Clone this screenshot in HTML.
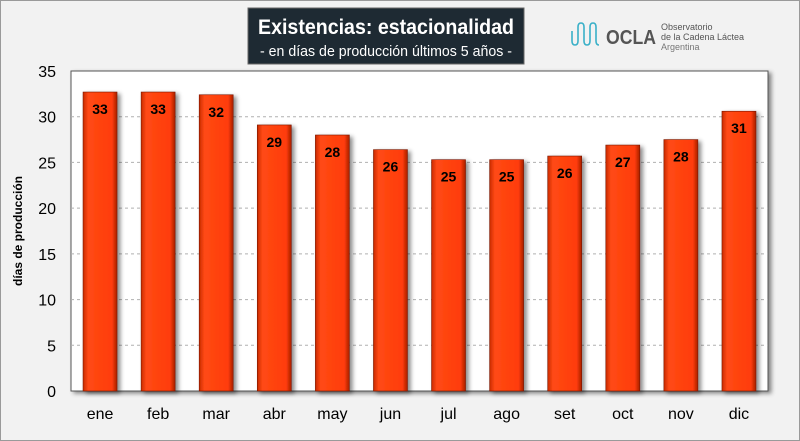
<!DOCTYPE html>
<html><head><meta charset="utf-8"><style>
body{margin:0;width:800px;height:441px;overflow:hidden;background:#f2f2f2;font-family:"Liberation Sans",sans-serif}
#wrap{position:absolute;left:0;top:0;width:798px;height:439px;border:1px solid #9a9a9a;background:#f2f2f2}
</style></head><body>
<div id="wrap">
<svg id="chart" width="800" height="441" style="position:absolute;left:-1px;top:-1px">
<defs>
<linearGradient id="bg" x1="0" x2="1" y1="0" y2="0">
<stop offset="0" stop-color="#c92a00"/><stop offset="0.15" stop-color="#ff4a14"/><stop offset="0.85" stop-color="#ff3c0a"/><stop offset="1" stop-color="#a82000"/>
</linearGradient>
<filter id="sh" x="-20%" y="-5%" width="150%" height="120%"><feDropShadow dx="3" dy="2" stdDeviation="2" flood-color="#000" flood-opacity="0.45"/></filter>
</defs>
<rect x="71" y="71" width="697" height="320" fill="#fff" stroke="#555" stroke-width="1" filter="url(#sh)"/>
<g id="grid"></g><g id="bars"></g><g id="axes"></g>
<g>
<rect x="248" y="8" width="276" height="56" fill="#1e2a33" stroke="#666"/>
<text x="258" y="34" textLength="256" lengthAdjust="spacingAndGlyphs" fill="#fff" font-size="21" font-weight="bold">Existencias: estacionalidad</text>
<text x="260" y="56" textLength="252" lengthAdjust="spacingAndGlyphs" fill="#fff" font-size="15">- en días de producción últimos 5 años -</text>
</g>
<g>
<path d="M572 31 v10 q0 4 3 4 t3-4 v-14 q0-4 3-4 t3 4 v14 q0 4 3 4 t3-4 v-14 q0-4 3-4 t3 4 v14 q0 4 3 4" fill="none" stroke="#3ab0c8" stroke-width="1.6"/>
<text x="606" y="44" textLength="50" lengthAdjust="spacingAndGlyphs" fill="#555" font-size="20" font-weight="bold">OCLA</text>
<text x="661" y="30" fill="#555" font-size="9">Observatorio</text>
<text x="661" y="40" fill="#555" font-size="9">de la Cadena Láctea</text>
<text x="661" y="50" fill="#777" font-size="9">Argentina</text>
</g>
<text transform="translate(22,231) rotate(-90)" text-anchor="middle" font-size="12" font-weight="bold" fill="#000">días de producción</text>
</svg>
</div>
<script>
const categories=["ene","feb","mar","abr","may","jun","jul","ago","set","oct","nov","dic"];
const values=[32.7,32.7,32.4,29.1,28.0,26.4,25.3,25.3,25.7,26.9,27.5,30.6];
const labels=["33","33","32","29","28","26","25","25","26","27","28","31"];
const yTicks=[0,5,10,15,20,25,30,35];
const NS="http://www.w3.org/2000/svg";
const X0=71,X1=768,Y0=391,Y1=71,YMAX=35;
const y=v=>Y0-(v/YMAX)*(Y0-Y1);
const bw=(X1-X0)/categories.length;
const xc=i=>X0+bw*(i+0.5);
function mk(t,a,p){const e=document.createElementNS(NS,t);for(const k in a)e.setAttribute(k,a[k]);p.appendChild(e);return e;}
const grid=document.getElementById('grid'),bars=document.getElementById('bars'),axes=document.getElementById('axes');
yTicks.forEach(t=>{
 if(t>0&&t<YMAX){const l=mk('line',{x1:X0,x2:X1,y1:y(t),y2:y(t),stroke:'#b0b0b0','stroke-dasharray':'3,3'},grid);
 
 }
 const tx=mk('text',{x:56,y:y(t)+6,'text-anchor':'end','font-size':16,fill:'#000'},axes);
 tx.textContent=t;
 
 
});
categories.forEach((c,i)=>{
 const w=34,x=xc(i)-w/2,top=y(values[i]);
 const r=mk('rect',{x:x,y:top,width:w,height:Y0-top,fill:'url(#bg)',stroke:'#7a1800','stroke-width':0.6,filter:'url(#sh)'},bars);
 
 
 const t=mk('text',{x:xc(i),y:top+22,'text-anchor':'middle','font-size':14,'font-weight':'bold',fill:'#000'},bars);
 t.textContent=labels[i];
 
 
 const cl=mk('text',{x:xc(i),y:419,'text-anchor':'middle','font-size':16,fill:'#000'},axes);
 cl.textContent=c;
 
 
});
</script>
</body></html>
